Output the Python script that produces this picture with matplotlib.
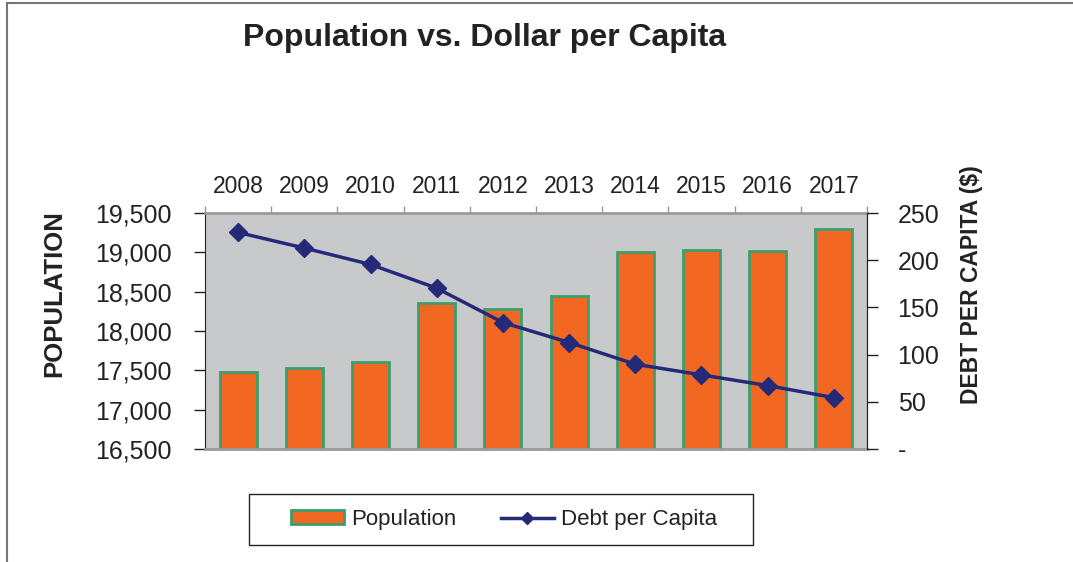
import matplotlib.pyplot as plt
from matplotlib.lines import Line2D
from matplotlib.patches import Rectangle
from matplotlib.ticker import FuncFormatter, FixedLocator
import numpy as np

plt.rcParams['font.family'] = ['Liberation Sans', 'DejaVu Sans']

# data
years = ['2008', '2009', '2010', '2011', '2012', '2013', '2014', '2015', '2016', '2017']
population = [17484, 17535, 17600, 18354, 18281, 18447, 19006, 19032, 19019, 19295]
debt_per_capita = [229.4, 212.9, 195.5, 170.4, 134.0, 112.8, 89.8, 78.5, 67.2, 54.4]

pop_ticks = [16500, 17000, 17500, 18000, 18500, 19000, 19500]
debt_ticks = [0, 50, 100, 150, 200, 250]

W, H = 1073, 562
fig = plt.figure(figsize=(W / 100, H / 100), dpi=100)
ax = fig.add_axes([205 / W, 1 - 449 / H, 662 / W, 236 / H])
ax2 = ax.twinx()

x = np.arange(len(years))
ax.set_facecolor('#c8c9cb')
ax.bar(x, population, width=0.56, color='#f26722', edgecolor='#3a9e6e',
       linewidth=2, label='Population', zorder=2)
ax.set_xlim(-0.5, len(years) - 0.5)
ax.set_ylim(16500, 19500)
ax.set_yticks(pop_ticks)
ax.yaxis.set_major_formatter(FuncFormatter(lambda v, p: f'{v:,.0f}'))
ax.tick_params(axis='y', labelsize=18, length=8, width=1, color='#222222',
               pad=16, labelcolor='#222222')

# years on top, ticks at category boundaries
ax.xaxis.tick_top()
ax.xaxis.set_major_locator(FixedLocator(np.arange(-0.5, len(years), 1.0)))
ax.set_xticklabels([])
ax.set_xticks(x, minor=True)
ax.set_xticklabels(years, minor=True)
ax.tick_params(axis='x', which='major', length=5, color='#999999', width=1)
ax.tick_params(axis='x', which='minor', length=0, labelsize=16.5, pad=11,
               labelcolor='#222222', top=True, labeltop=True, bottom=False)

for side in ['top', 'bottom']:
    ax.spines[side].set_color('#999999')
    ax.spines[side].set_linewidth(2)
ax.spines['left'].set_color('#222222')
ax.spines['right'].set_color('#222222')

ax.set_ylabel('POPULATION', fontsize=18.5, fontweight='bold', color='#222222')
ax.yaxis.set_label_coords(-0.21, 0.66)

ax2.plot(x, debt_per_capita, color='#242a78', linewidth=2.5, marker='D',
         markersize=9, label='Debt per Capita', zorder=3)
ax2.set_ylim(0, 250)
ax2.set_yticks(debt_ticks)
ax2.yaxis.set_major_formatter(FuncFormatter(lambda v, p: '-' if v == 0 else f'{v:.0f}'))
ax2.tick_params(axis='y', labelsize=18, length=8, width=1, color='#222222',
                pad=14, labelcolor='#222222')
for sp in ax2.spines.values():
    sp.set_visible(False)
ax2.spines['right'].set_visible(True)
ax2.spines['right'].set_color('#222222')
ax2.set_ylabel('DEBT PER CAPITA ($)', fontsize=16.5, fontweight='bold', color='#222222')
ax2.yaxis.set_label_coords(1.141, 0.695)

fig.text(485 / W, 1 - 38 / H, 'Population vs. Dollar per Capita',
         ha='center', va='center', fontsize=23, fontweight='bold', color='#222222')

# legend without its own frame, box drawn separately to get the wide padding
h1, l1 = ax.get_legend_handles_labels()
h2, l2 = ax2.get_legend_handles_labels()
leg = fig.legend(h1 + h2, l1 + l2, loc='center', bbox_to_anchor=(504 / W, 1 - 519.5 / H),
                 ncol=2, fontsize=16, frameon=False,
                 handlelength=2.4, handleheight=0.55, columnspacing=2.0,
                 borderpad=0.7, handletextpad=0.3, markerscale=0.7)
for t in leg.get_texts():
    t.set_color('#222222')
fig.add_artist(Rectangle((249 / W, 1 - 545 / H), 504 / W, 51 / H, transform=fig.transFigure,
                         fill=False, edgecolor='#222222', linewidth=1))

# outer border lines (top and left)
fig.add_artist(Line2D([7 / W, 1], [1 - 3 / H, 1 - 3 / H], color='#777777', linewidth=1.5))
fig.add_artist(Line2D([7 / W, 7 / W], [0, 1 - 3 / H], color='#777777', linewidth=1.5))

fig.savefig('out.png', dpi=100)
